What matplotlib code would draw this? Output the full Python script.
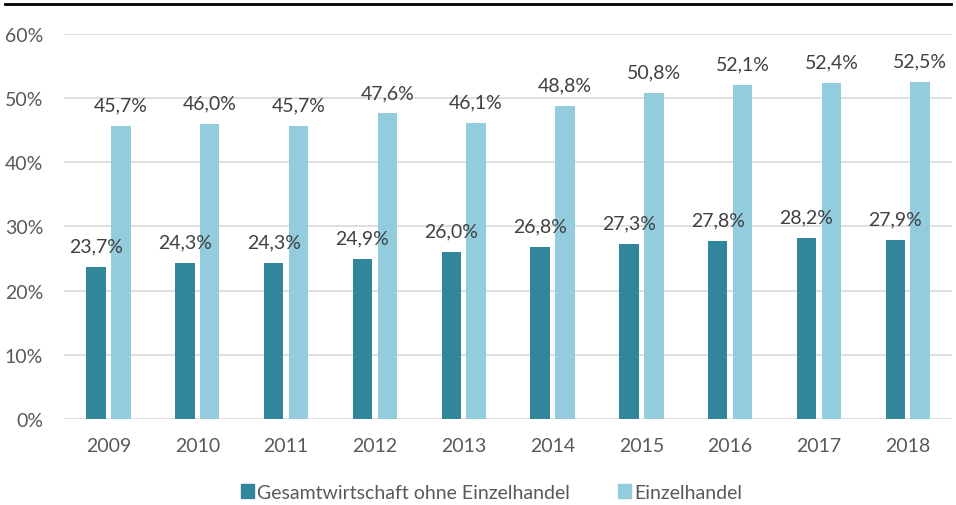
import matplotlib
matplotlib.use("Agg")
import matplotlib.pyplot as plt
import numpy as np
from matplotlib.lines import Line2D
from matplotlib.patches import Patch

years = ["2009", "2010", "2011", "2012", "2013", "2014", "2015", "2016", "2017", "2018"]
gesamt = [23.7, 24.3, 24.3, 24.9, 26.0, 26.8, 27.3, 27.8, 28.2, 27.9]
einzel = [45.7, 46.0, 45.7, 47.6, 46.1, 48.8, 50.8, 52.1, 52.4, 52.5]
series_names = ["Gesamtwirtschaft ohne Einzelhandel", "Einzelhandel"]
yticks = [0, 10, 20, 30, 40, 50, 60]

dark = "#31869C"
light = "#93CDDD"
txt = "#595959"

plt.rcParams['font.family'] = ['Lato', 'DejaVu Sans']

fig = plt.figure(figsize=(9.56, 5.06), dpi=100)
ax = fig.add_axes([0.067, 0.170, 0.929, 0.761])

x = np.arange(len(years))
w = 0.22
off = 0.14
b1 = ax.bar(x - off, gesamt, w, color=dark, zorder=3)
b2 = ax.bar(x + off, einzel, w, color=light, zorder=3)

def fmt(v):
    return f"{v:.1f}%".replace(".", ",")

for xi, v in zip(x - off, gesamt):
    ax.annotate(fmt(v), (xi, v), xytext=(0, 9), textcoords="offset points",
                ha="center", va="bottom", fontsize=14, color="#404040")
for xi, v in zip(x + off, einzel):
    ax.annotate(fmt(v), (xi, v), xytext=(0, 9), textcoords="offset points",
                ha="center", va="bottom", fontsize=14, color="#404040")

ax.set_xlim(-0.5, len(years) - 0.5)
ax.set_ylim(0, 60)
ax.set_yticks(yticks)
ax.set_yticklabels([f"{t}%" for t in yticks])
ax.set_xticks(x)
ax.set_xticklabels(years)
ax.tick_params(axis="both", length=0, labelsize=14, labelcolor=txt)
ax.tick_params(axis="x", pad=13)
ax.tick_params(axis="y", pad=15)
ax.grid(axis="y", color="#D9D9D9", linewidth=1.2, zorder=0)
for s in ax.spines.values():
    s.set_visible(False)

handles = [Patch(color=dark), Patch(color=light)]
fig.legend(handles, series_names, loc="center", bbox_to_anchor=(0.514, 0.025),
           ncol=2, frameon=False, fontsize=14, labelcolor=txt,
           handlelength=0.7, handleheight=0.7, handletextpad=0.15, columnspacing=2.45)

fig.add_artist(Line2D([0.005, 0.995], [0.99, 0.99], color="black", linewidth=2,
                      transform=fig.transFigure))

fig.savefig("out.png", dpi=100)
